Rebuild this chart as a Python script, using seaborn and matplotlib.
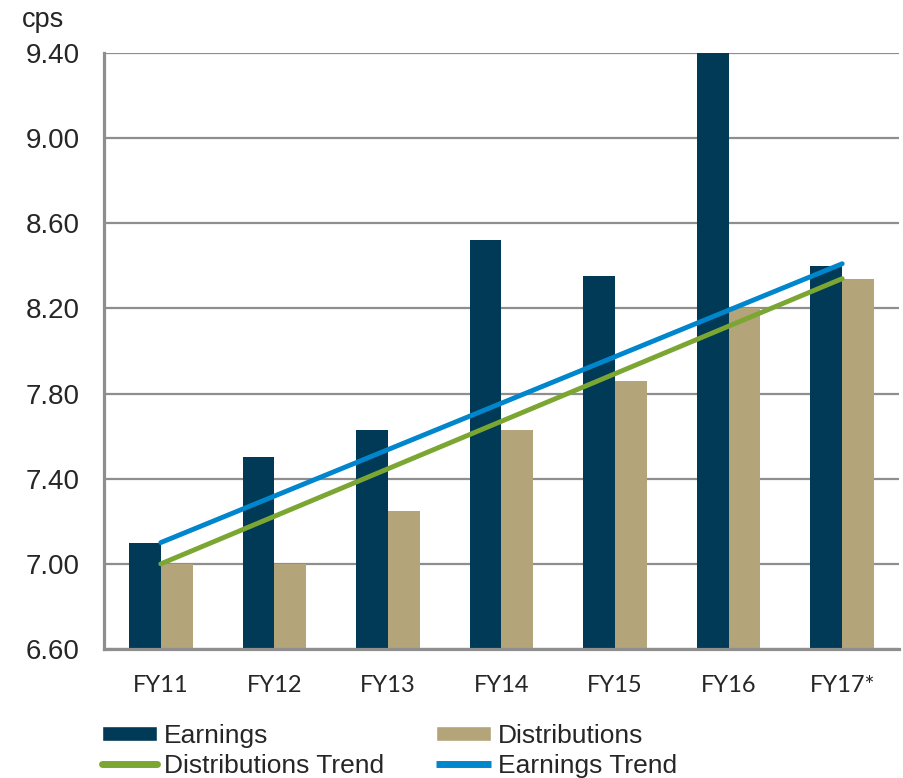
import matplotlib
matplotlib.use('Agg')
import matplotlib.pyplot as plt
from matplotlib.patches import Patch
from matplotlib.lines import Line2D
import seaborn as sns
import pandas as pd


# data
years = ['FY11', 'FY12', 'FY13', 'FY14', 'FY15', 'FY16', 'FY17*']
earnings = [7.10, 7.50, 7.63, 8.52, 8.35, 9.45, 8.40]
distributions = [7.00, 7.00, 7.25, 7.63, 7.86, 8.20, 8.34]

# trend lines, FY11 -> FY17*
trend_years = ['FY11', 'FY17*']
earnings_trend = [7.10, 8.41]
distributions_trend = [7.00, 8.34]

yticks = [6.60, 7.00, 7.40, 7.80, 8.20, 8.60, 9.00, 9.40]

navy = '#003a57'
tan = '#b3a47a'
green = '#7ba632'
blue = '#0086cc'
grey = '#8e8e8e'

df = pd.DataFrame({
    'year': years * 2,
    'value': earnings + distributions,
    'series': ['Earnings'] * len(years) + ['Distributions'] * len(years),
})

sns.set_style('white')
plt.rcParams['font.family'] = ['Liberation Sans', 'DejaVu Sans']

fig = plt.figure(figsize=(9.04, 7.78), dpi=100)
ax = fig.add_axes([104 / 904, 1 - 649 / 778, (899 - 104) / 904, (649 - 53) / 778])

sns.barplot(data=df, x='year', y='value', hue='series', order=years,
            hue_order=['Earnings', 'Distributions'],
            palette=[navy, tan], width=0.56, saturation=1,
            edgecolor='none', linewidth=0, legend=False, ax=ax, zorder=2)

tx = [years.index(t) for t in trend_years]
ax.plot(tx, distributions_trend, color=green, lw=3.5, solid_capstyle='round', zorder=3)
ax.plot(tx, earnings_trend, color=blue, lw=3.5, solid_capstyle='round', zorder=4)

ax.set_ylim(6.60, 9.40)
ax.set_xlim(-0.5, len(years) - 0.5)
ax.set_yticks(yticks)
ax.set_yticklabels([f'{v:.2f}' for v in yticks], fontsize=20)
ax.yaxis.grid(True, color=grey, lw=1.6, zorder=0)
ax.set_axisbelow(True)
ax.tick_params(axis='y', length=6.5, width=1.6, color=grey, pad=11)

# category labels at centres, tick marks at boundaries
ax.set_xticks(range(len(years)))
ax.set_xticklabels(years, fontsize=17, family=['Lato', 'DejaVu Sans'])
ax.tick_params(axis='x', which='major', length=0, pad=19)
ax.set_xticks([i - 0.5 for i in range(len(years) + 1)], minor=True)
ax.tick_params(axis='x', which='minor', length=6, width=1.6, color=grey)

ax.set_xlabel('')
ax.set_ylabel('')
for s in ['top', 'right']:
    ax.spines[s].set_visible(False)
ax.spines['left'].set_color(grey)
ax.spines['left'].set_linewidth(2.3)
ax.spines['bottom'].set_color(grey)
ax.spines['bottom'].set_linewidth(2.3)

fig.text(22 / 904, 1 - 27 / 778, 'cps', fontsize=19.5, va='baseline', ha='left')

handles = [
    Patch(facecolor=navy, label='Earnings'),
    Line2D([0], [0], color=green, lw=5, solid_capstyle='round', label='Distributions Trend'),
    Patch(facecolor=tan, label='Distributions'),
    Line2D([0], [0], color=blue, lw=5, solid_capstyle='butt', label='Earnings Trend'),
]
fig.legend(handles=handles, ncol=2, loc='upper left', bbox_to_anchor=(102 / 904, 1 - 724 / 778),
           frameon=False, fontsize=19, borderpad=0, borderaxespad=0,
           handlelength=2.1, handleheight=0.5, handletextpad=0.25,
           labelspacing=0.22, columnspacing=1.95)

fig.savefig('out.png', dpi=100)
